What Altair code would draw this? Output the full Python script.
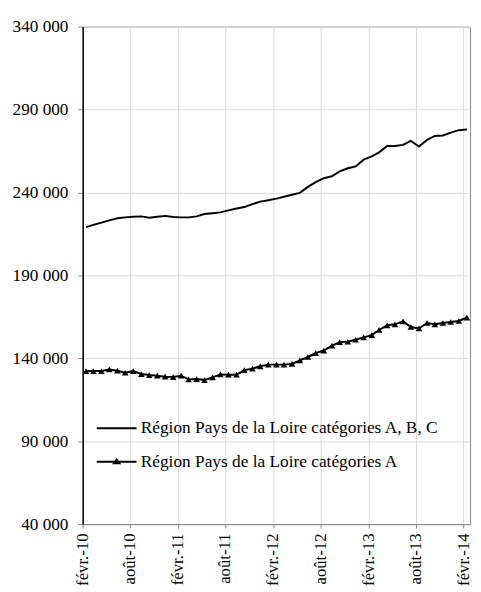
import json
import altair as alt
import pandas as pd

# ---- data ----
series_names = [
    "Région Pays de la Loire catégories A, B, C",
    "Région Pays de la Loire catégories A",
]
x_labels = ["févr.-10", "août-10", "févr.-11", "août-11", "févr.-12",
            "août-12", "févr.-13", "août-13", "févr.-14"]
y_ticks = [40000, 90000, 140000, 190000, 240000, 290000, 340000]

abc_values = [219.1, 220.5, 221.8, 223.2, 224.5, 225.0, 225.4, 225.6, 224.8, 225.4,
              225.9, 225.2, 225.0, 225.0, 225.6, 227.0, 227.5, 228.0, 229.2, 230.3,
              231.2, 233.0, 234.5, 235.3, 236.3, 237.4, 238.6, 239.8, 243.4, 246.2,
              248.6, 249.8, 252.8, 254.6, 255.7, 259.8, 261.8, 264.2, 268.0, 268.1,
              268.7, 271.1, 267.7, 271.7, 274.1, 274.4, 276.1, 277.6, 278.0]
a_values = [132.3, 132.3, 132.3, 133.3, 132.5, 131.3, 132.3, 130.5, 129.9, 129.5,
            128.9, 128.7, 129.5, 127.3, 127.5, 126.9, 128.5, 130.3, 130.1, 130.1,
            132.9, 133.8, 135.2, 136.2, 136.2, 136.2, 136.6, 138.8, 140.8, 143.1,
            144.7, 147.6, 149.7, 150.0, 151.2, 152.6, 154.0, 157.1, 159.9, 160.5,
            162.3, 158.9, 158.0, 161.3, 160.5, 161.3, 161.9, 162.5, 164.6]

# months Feb 2010 .. Feb 2014 (monthly values plotted mid-month)
dates = []
for i in range(49):
    m0 = 1 + i
    dates.append(f"{2010 + m0 // 12}-{m0 % 12 + 1:02d}-14T00:00:00")

rows = []
for name, vals in zip(series_names, [abc_values, a_values]):
    for d, v in zip(dates, vals):
        rows.append({"date": d, "value": round(v * 1000), "series": name})
df = pd.DataFrame(rows)

FONT = "Liberation Serif"

tick_dates = [alt.DateTime(year=2010 + k // 2, month=2 if k % 2 == 0 else 8, date=1)
              for k in range(len(x_labels))]
label_expr_x = (json.dumps(x_labels, ensure_ascii=False)
                + "[(year(datum.value)-2010)*2 + (month(datum.value) == 7 ? 1 : 0)]")

x_enc = alt.X(
    "date:T",
    scale=alt.Scale(domain=[alt.DateTime(year=2010, month=2, date=1),
                            alt.DateTime(year=2014, month=2, date=26)]),
    axis=alt.Axis(values=tick_dates, labelExpr=label_expr_x, labelAngle=-90,
                  title=None, grid=True, tickSize=4, labelPadding=5,
                  labelFont=FONT, labelFontSize=17, labelColor="#000000",
                  gridColor="#d9d9d9", domainColor="#868686", tickColor="#868686"),
)
y_enc = alt.Y(
    "value:Q",
    scale=alt.Scale(domain=[40000, 340000], nice=False, zero=False),
    axis=alt.Axis(values=y_ticks, title=None, grid=True, tickSize=5, labelPadding=10,
                  labelExpr="replace(format(datum.value, ',d'), ',', ' ')",
                  labelFont=FONT, labelFontSize=17.5, labelColor="#000000",
                  gridColor="#d9d9d9",
                  domainColor="#000000", domainWidth=1.5, tickColor="#868686"),
)

tri_path = "M-1.5,0H1.5M-0.2,0.12L0,-0.16L0.2,0.12Z"
line_path = "M-1.5,0H1.5"
sym_expr = f"datum.value == '{series_names[1]}' ? '{tri_path}' : '{line_path}'"

lines = alt.Chart(df).mark_line(strokeWidth=2).encode(
    x=x_enc,
    y=y_enc,
    color=alt.Color(
        "series:N",
        scale=alt.Scale(domain=series_names, range=["#000000", "#000000"]),
        legend=alt.Legend(
            orient="none", legendX=20, legendY=394, title=None,
            symbolType={"expr": sym_expr}, symbolSize=729, symbolStrokeWidth=2,
            symbolFillColor="#000000", symbolStrokeColor="#000000",
            labelOffset=10, rowPadding=10, padding=0,
            labelFont=FONT, labelFontSize=17.6, labelColor="#000000", labelLimit=0,
        ),
    ),
)

points = alt.Chart(df).transform_filter(
    alt.datum.series == series_names[1]
).mark_point(shape="triangle-up", filled=True, size=45, color="#000000", opacity=1).encode(
    x="date:T",
    y="value:Q",
)

chart = alt.layer(lines, points).properties(
    width=394,
    height=506,
    background="#ffffff",
    autosize=alt.AutoSizeParams(type="none"),
    padding={"left": 76, "top": 14, "right": 3, "bottom": 62},
).configure_view(
    stroke="#898989", strokeWidth=1
)

chart.save("out.html", embed_options={"renderer": "svg", "actions": False})
